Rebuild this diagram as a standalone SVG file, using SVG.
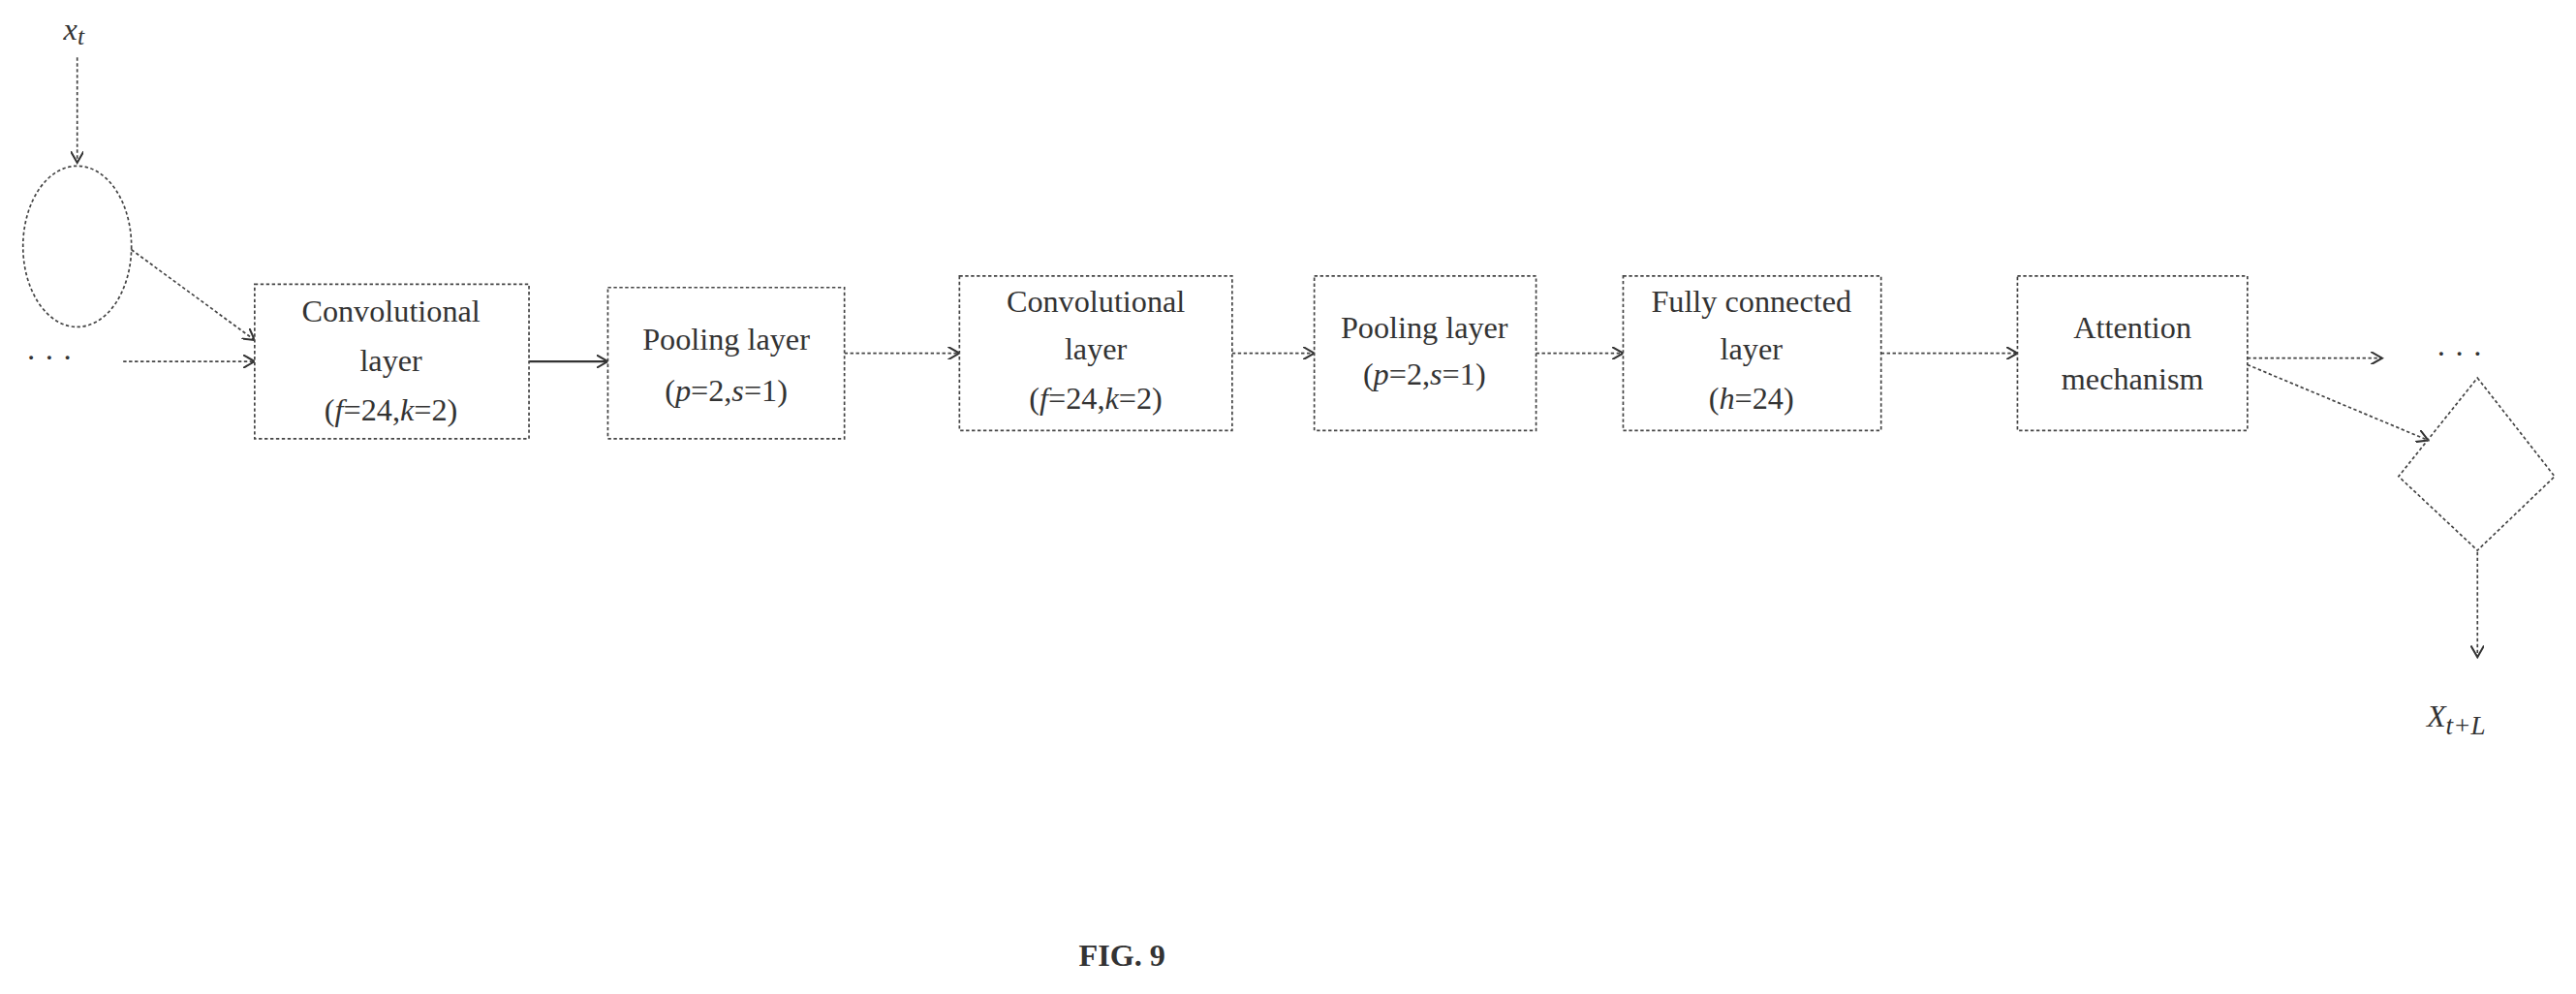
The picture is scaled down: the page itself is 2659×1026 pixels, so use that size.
<svg xmlns="http://www.w3.org/2000/svg" width="2659" height="1026" viewBox="0 0 2659 1026">
<style>
.b{fill:#fff;stroke:#444;stroke-width:1;stroke-dasharray:2,1.5}
.c{fill:none;stroke:#444;stroke-width:1;stroke-dasharray:2,1.5}
text{font-family:"Liberation Serif",serif;font-size:19px;fill:#333;text-anchor:middle}
.i{font-style:italic}
</style>
<defs><marker id="a" markerWidth="8" markerHeight="8" refX="7" refY="4" orient="auto" markerUnits="userSpaceOnUse"><path d="M0,0L7,4L0,8" fill="none" stroke="#333" stroke-width="1.2"/></marker></defs>
<rect width="2659" height="1026" fill="#fff"/>
<g transform="scale(1.6958)">
<g id="connectors">
<line class="c" x1="47" y1="35" x2="47" y2="99" marker-end="url(#a)"/>
<line class="c" x1="80" y1="152" x2="155" y2="207" marker-end="url(#a)"/>
<line class="c" x1="75" y1="220" x2="155" y2="220" marker-end="url(#a)"/>
<line x1="322" y1="220" x2="370" y2="220" stroke="#333" stroke-width="1.3" marker-end="url(#a)"/>
<line class="c" x1="514" y1="215" x2="584" y2="215" marker-end="url(#a)"/>
<line class="c" x1="750" y1="215" x2="800" y2="215" marker-end="url(#a)"/>
<line class="c" x1="935" y1="215" x2="988" y2="215" marker-end="url(#a)"/>
<line class="c" x1="1145" y1="215" x2="1228" y2="215" marker-end="url(#a)"/>
<line class="c" x1="1368" y1="218" x2="1450" y2="218" marker-end="url(#a)"/>
<line class="c" x1="1368" y1="222" x2="1478" y2="268" marker-end="url(#a)"/>
<line class="c" x1="1508" y1="336" x2="1508" y2="400" marker-end="url(#a)"/>
</g>
<g id="xt"><text x="45" y="24" class="i" font-size="22">x<tspan font-size="15" dy="3">t</tspan></text></g>
<g id="circle"><ellipse class="c" cx="47" cy="150" rx="33" ry="49"/></g>
<g id="dots-in"><text x="30" y="224">· · ·</text></g>
<g id="conv1"><rect class="b" x="155" y="173" width="167" height="94"/>
<text x="238" y="196">Convolutional</text><text x="238" y="226">layer</text><text x="238" y="256">(<tspan class="i">f</tspan>=24,<tspan class="i">k</tspan>=2)</text></g>
<g id="pool1"><rect class="b" x="370" y="175" width="144" height="92"/>
<text x="442" y="213">Pooling layer</text><text x="442" y="244">(<tspan class="i">p</tspan>=2,<tspan class="i">s</tspan>=1)</text></g>
<g id="conv2"><rect class="b" x="584" y="168" width="166" height="94"/>
<text x="667" y="190">Convolutional</text><text x="667" y="219">layer</text><text x="667" y="249">(<tspan class="i">f</tspan>=24,<tspan class="i">k</tspan>=2)</text></g>
<g id="pool2"><rect class="b" x="800" y="168" width="135" height="94"/>
<text x="867" y="206">Pooling layer</text><text x="867" y="234">(<tspan class="i">p</tspan>=2,<tspan class="i">s</tspan>=1)</text></g>
<g id="fc"><rect class="b" x="988" y="168" width="157" height="94"/>
<text x="1066" y="190">Fully connected</text><text x="1066" y="219">layer</text><text x="1066" y="249">(<tspan class="i">h</tspan>=24)</text></g>
<g id="att"><rect class="b" x="1228" y="168" width="140" height="94"/>
<text x="1298" y="206">Attention</text><text x="1298" y="237">mechanism</text></g>
<g id="dots-out"><text x="1497" y="222">· · ·</text></g>
<g id="diamond"><polygon class="c" points="1508,230 1555,290 1508,335 1460,290"/></g>
<g id="xtl"><text x="1495" y="442" class="i" font-size="26">X<tspan font-size="16" dy="5">t+L</tspan></text></g>
<g id="fig"><text x="683" y="588" font-weight="bold" font-size="20">FIG. 9</text></g>
</g>
</svg>
